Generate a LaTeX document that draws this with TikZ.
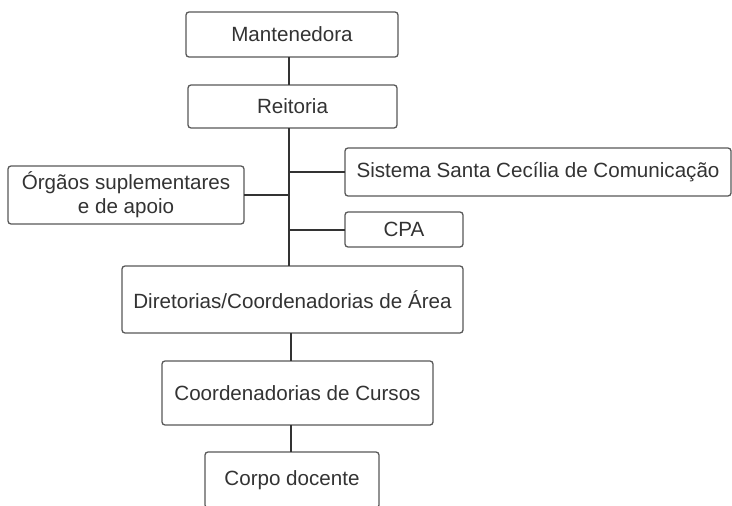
\documentclass[tikz,border=0pt]{standalone}
\usepackage{fontspec}
\setmainfont{Liberation Sans}
\begin{document}
\begin{tikzpicture}[x=1pt, y=-1pt,
  every node/.style={draw=black!65, line width=1.3pt, rounded corners=3pt, text=black!80,
    font=\fontsize{20.6}{24}\selectfont, inner sep=0pt, outer sep=0pt, align=center},
  link/.style={draw=black!80, line width=2pt}]
\useasboundingbox (0,0) rectangle (732,506);
\clip (0,0) rectangle (732,506);
\fill[white] (0,0) rectangle (732,506);

\node[minimum width=212pt, minimum height=45pt] (mant) at (292,34.5) {Mantenedora};
\node[minimum width=209pt, minimum height=43pt] (reit) at (292.5,106.5) {Reitoria};
\node[minimum width=386pt, minimum height=48pt] (sist) at (538,172) {Sistema Santa Cecília de Comunicação};
\node[minimum width=236pt, minimum height=58pt] (orgs) at (126,195) {Órgãos suplementares\\e de apoio};
\node[minimum width=118pt, minimum height=35pt] (cpa) at (404,229.5) {CPA};
\node[minimum width=341pt, minimum height=67pt] (dire) at (292.5,299.5) {Diretorias/Coordenadorias de Área};
\node[minimum width=271pt, minimum height=64pt] (curs) at (297.5,393) {Coordenadorias de Cursos};
\node[minimum width=174pt, minimum height=56pt] (docs) at (292,480) {Corpo docente};

\coordinate (trunk) at (289,0);
\coordinate (lower) at (291,0);

\draw[link] (mant.south -| trunk) -- (reit.north -| trunk);
\draw[link] (reit.south -| trunk) -- (dire.north -| trunk);
\draw[link] (sist.west) -- (sist.west -| trunk);
\draw[link] (orgs.east) -- (orgs.east -| trunk);
\draw[link] (cpa.west) -- (cpa.west -| trunk);
\draw[link] (dire.south -| lower) -- (curs.north -| lower);
\draw[link] (curs.south -| lower) -- (docs.north -| lower);
\end{tikzpicture}
\end{document}
